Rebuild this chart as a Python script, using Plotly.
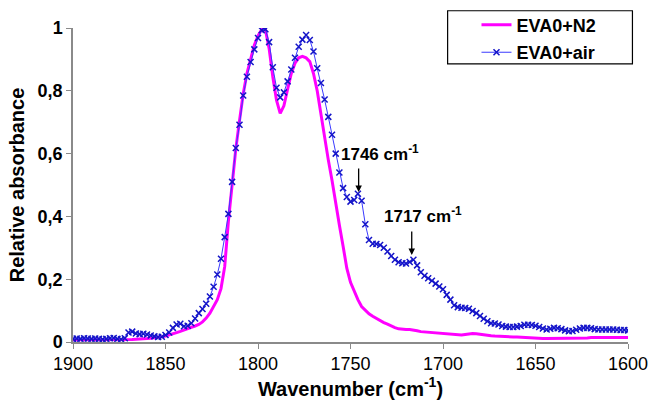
import plotly.graph_objects as go

# FTIR carbonyl region, wavenumbers in cm-1 (2 cm-1 step)
wavenumber = list(range(1900, 1599, -2))

# EVA0 aged under nitrogen
absorb_n2 = [
    0.007, 0.007, 0.006, 0.007, 0.007, 0.006, 0.007, 0.007, 0.006, 0.007,
    0.007, 0.007, 0.007, 0.007, 0.008, 0.008, 0.008, 0.009, 0.009, 0.010,
    0.011, 0.012, 0.013, 0.015, 0.017, 0.019, 0.022, 0.026, 0.030, 0.034,
    0.039, 0.043, 0.047, 0.051, 0.056, 0.064, 0.076, 0.092, 0.112, 0.135,
    0.170, 0.240, 0.385, 0.505, 0.615, 0.705, 0.790, 0.855, 0.905, 0.945,
    0.975, 0.995, 0.995, 0.935, 0.845, 0.770, 0.728, 0.752, 0.805, 0.855,
    0.888, 0.905, 0.910, 0.905, 0.893, 0.855, 0.800, 0.725, 0.640, 0.580,
    0.515, 0.450, 0.372, 0.305, 0.235, 0.190, 0.160, 0.135, 0.113, 0.100,
    0.090, 0.082, 0.075, 0.068, 0.062, 0.057, 0.051, 0.046, 0.042, 0.040,
    0.040, 0.040, 0.039, 0.036, 0.033, 0.032, 0.031, 0.030, 0.029, 0.028,
    0.027, 0.026, 0.024, 0.022, 0.021, 0.022, 0.024, 0.026, 0.027, 0.026,
    0.024, 0.022, 0.021, 0.020, 0.019, 0.018, 0.018, 0.017, 0.016, 0.016,
    0.016, 0.015, 0.015, 0.014, 0.013, 0.012, 0.011, 0.011, 0.011, 0.011,
    0.011, 0.012, 0.012, 0.012, 0.012, 0.013, 0.013, 0.013, 0.013, 0.013,
    0.014, 0.014, 0.014, 0.014, 0.014, 0.014, 0.014, 0.014, 0.014, 0.014,
    0.014,
]

# EVA0 aged in air
absorb_air = [
    0.010, 0.011, 0.010, 0.012, 0.011, 0.010, 0.011, 0.010, 0.009, 0.010,
    0.012, 0.013, 0.010, 0.009, 0.012, 0.030, 0.033, 0.027, 0.025, 0.026,
    0.024, 0.021, 0.018, 0.016, 0.017, 0.022, 0.030, 0.045, 0.056, 0.058,
    0.050, 0.052, 0.060, 0.075, 0.092, 0.105, 0.122, 0.145, 0.176, 0.215,
    0.265, 0.334, 0.408, 0.510, 0.618, 0.692, 0.785, 0.845, 0.892, 0.932,
    0.968, 0.993, 0.996, 0.955, 0.875, 0.810, 0.779, 0.795, 0.830, 0.868,
    0.905, 0.940, 0.963, 0.978, 0.962, 0.925, 0.872, 0.825, 0.772, 0.717,
    0.660, 0.600, 0.540, 0.490, 0.462, 0.447, 0.452, 0.472, 0.450, 0.375,
    0.325, 0.313, 0.312, 0.309, 0.300, 0.288, 0.274, 0.262, 0.254, 0.251,
    0.250, 0.255, 0.262, 0.244, 0.222, 0.211, 0.203, 0.195, 0.186, 0.177,
    0.168, 0.150, 0.135, 0.117, 0.111, 0.109, 0.108, 0.106, 0.099, 0.092,
    0.083, 0.074, 0.066, 0.060, 0.059, 0.056, 0.051, 0.049, 0.048, 0.048,
    0.049, 0.051, 0.055, 0.055, 0.054, 0.052, 0.048, 0.043, 0.040, 0.042,
    0.045, 0.044, 0.041, 0.037, 0.034, 0.035, 0.039, 0.043, 0.045, 0.045,
    0.044, 0.041, 0.040, 0.040, 0.040, 0.040, 0.040, 0.039, 0.038, 0.038,
    0.037,
]

x_ticks = [1900, 1850, 1800, 1750, 1700, 1650, 1600]
y_ticks = [0, 0.2, 0.4, 0.6, 0.8, 1.0]
y_tick_text = ["0", "0,2", "0,4", "0,6", "0,8", "1"]

# marked bands: (wavenumber, absorbance at the arrow tip)
band_pos = [1745.6, 1716.9]
band_val = [0.478, 0.277]
band_text = ["1746 cm<sup>-1</sup>", "1717 cm<sup>-1</sup>"]

FONT = "Liberation Sans, Arial, sans-serif"
AXIS_GREY = "#8a8a8a"

fig = go.Figure()
fig.add_trace(go.Scatter(
    x=wavenumber, y=absorb_n2, name="<b>EVA0+N2</b>", mode="lines",
    line=dict(color="#ff00ff", width=3), legendgroup="n2",
))
fig.add_trace(go.Scatter(
    x=wavenumber, y=absorb_air, name="<b>EVA0+air</b>", mode="lines+markers",
    line=dict(color="#3a3aff", width=1),
    marker=dict(symbol="x-thin", size=6, color="#1414c8",
                line=dict(width=1.5, color="#1414c8")),
    legendgroup="air",
))

# arrows pointing at the bands, labels set above them
label_dx = [21, 11]
label_dy = [-39, -40]
for wn, val, txt, dx, dy in zip(band_pos, band_val, band_text, label_dx, label_dy):
    fig.add_annotation(x=wn, y=val, text="", showarrow=True, ax=0, ay=-25,
                       arrowhead=2, arrowsize=1, arrowwidth=1.3, arrowcolor="black",
                       standoff=0)
    fig.add_annotation(x=wn, y=val, text=f"<b>{txt}</b>", showarrow=False,
                       xshift=dx, yshift=-dy,
                       font=dict(family=FONT, size=17, color="black"))

# legend frame
fig.add_shape(type="rect", xref="paper", yref="paper",
              x0=0.675, x1=1.008, y0=0.886, y1=1.055,
              line=dict(color="black", width=1.2), fillcolor="white", layer="below")

fig.update_layout(
    width=651, height=401,
    margin=dict(l=73, r=23, t=28, b=59, autoexpand=False),
    plot_bgcolor="white", paper_bgcolor="white",
    font=dict(family=FONT, color="black"),
    showlegend=True,
    legend=dict(x=0.727, y=1.068, xanchor="left", yanchor="top",
                bgcolor="rgba(0,0,0,0)", borderwidth=0,
                font=dict(family=FONT, size=18, color="black"),
                traceorder="grouped", tracegroupgap=1, itemwidth=30),
    xaxis=dict(
        range=[1900, 1600], tickvals=x_ticks, ticks="outside", ticklen=5,
        tickcolor=AXIS_GREY, showline=True, linecolor=AXIS_GREY, linewidth=1.5,
        showgrid=False, zeroline=False, automargin=False,
        tickfont=dict(family=FONT, size=18, color="black"),
        tickprefix="<b>", ticksuffix="</b>",
        title=dict(text="<b>Wavenumber (cm<sup>-1</sup>)</b>", standoff=6,
                   font=dict(family=FONT, size=20, color="black")),
    ),
    yaxis=dict(
        range=[0, 1.0], tickvals=y_ticks, ticktext=[f"<b>{t}</b>" for t in y_tick_text],
        ticks="outside", ticklen=5, tickcolor=AXIS_GREY, showline=True,
        linecolor=AXIS_GREY, linewidth=1.5, showgrid=False, zeroline=False,
        automargin=False,
        tickfont=dict(family=FONT, size=18, color="black"),
        title=dict(text="<b>Relative absorbance</b>", standoff=8,
                   font=dict(family=FONT, size=20, color="black")),
    ),
)

fig.write_html("out.html")
